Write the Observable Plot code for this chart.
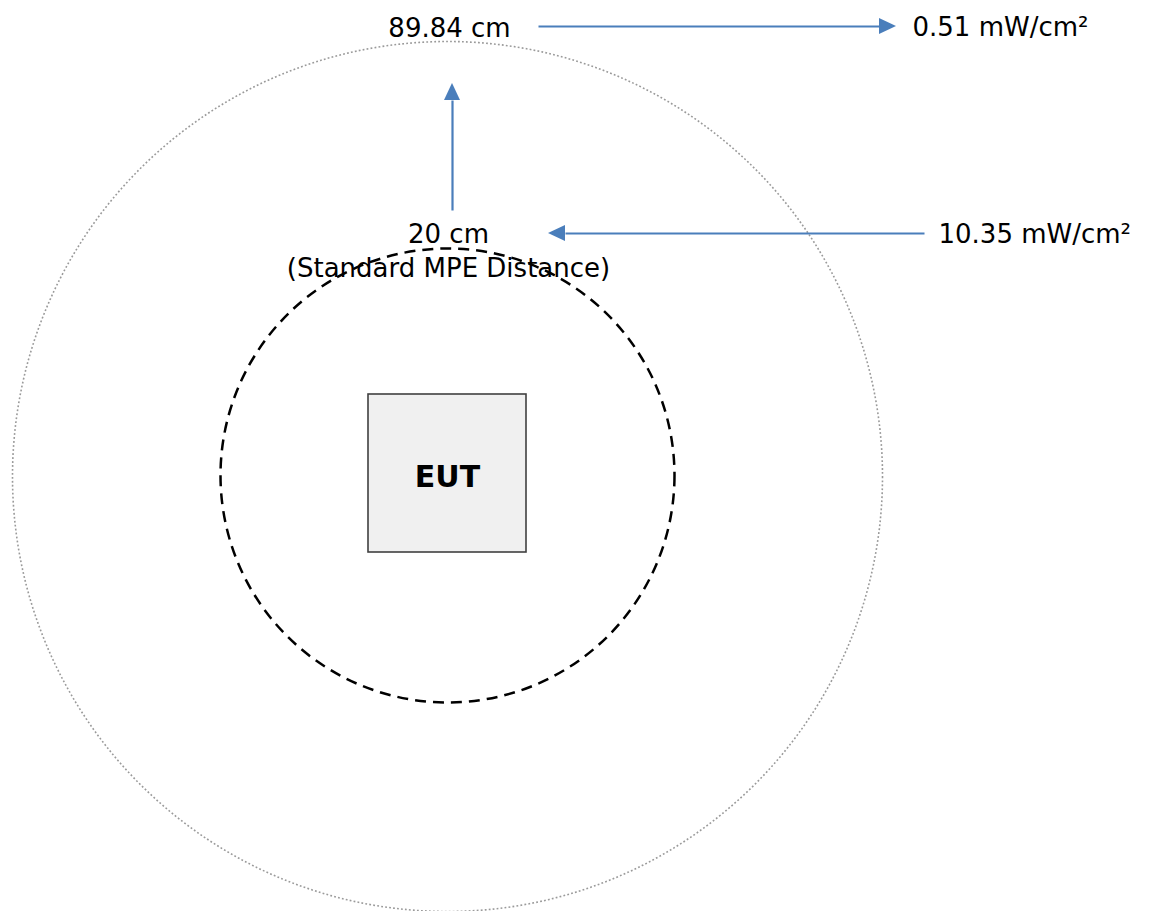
<!DOCTYPE html>
<html>
<head>
<meta charset="utf-8">
<script src="https://cdn.jsdelivr.net/npm/d3@7"></script>
<script src="https://cdn.jsdelivr.net/npm/@observablehq/plot@0.6"></script>
<style>
  html, body { margin: 0; padding: 0; background: #fff; }
  #chart svg { display: block; }
</style>
</head>
<body>
<div id="chart"></div>
<script>
// ---- Diagram data (diagram units = page pixels) ----
const circleNames = ["Calculated MPE distance", "Standard MPE distance"];
const circleCx = [447, 447];
const circleCy = [476, 475];
const circleR = [435, 227];

const boxName = ["EUT"];
const boxX1 = [368], boxX2 = [526], boxY1 = [394], boxY2 = [552];

const arrowNames = ["distance grows", "to power density (89.84 cm)", "from power density (20 cm)"];
const arrowX1 = [452, 538, 924];
const arrowY1 = [210, 26, 233];
const arrowX2 = [452, 896, 548];
const arrowY2 = [83, 26, 233];

const labelTexts = ["89.84 cm", "0.51 mW/cm²", "20 cm", "(Standard MPE Distance)", "10.35 mW/cm²"];
const labelX = [449, 912, 448, 448, 938];
const labelY = [36, 35, 242, 276, 242];
const labelAnchor = ["middle", "start", "middle", "middle", "start"];

const titleText = ["EUT"];
const titleX = [447];
const titleY = [486];

// ---- Build tables ----
const circles = circleNames.map((n, i) => ({name: n, cx: circleCx[i], cy: circleCy[i], r: circleR[i]}));
const boxes = boxName.map((n, i) => ({name: n, x1: boxX1[i], x2: boxX2[i], y1: boxY1[i], y2: boxY2[i]}));
const HEAD_LEN = 17, HEAD_W = 16;
const arrows = arrowNames.map((n, i) => {
  const x1 = arrowX1[i], y1 = arrowY1[i], x2 = arrowX2[i], y2 = arrowY2[i];
  const len = Math.hypot(x2 - x1, y2 - y1);
  const ux = (x2 - x1) / len, uy = (y2 - y1) / len;
  return {name: n, x1, y1, x2, y2, bx: x2 - ux * HEAD_LEN, by: y2 - uy * HEAD_LEN, ux, uy};
});
const headsH = [], headsV = [];
arrows.forEach((a, i) => {
  if (Math.abs(a.ux) > 0.5) {
    headsH.push({k: i, x: a.bx, y1: a.by - HEAD_W / 2, y2: a.by + HEAD_W / 2});
    headsH.push({k: i, x: a.x2, y1: a.y2, y2: a.y2});
  } else {
    headsV.push({k: i, y: a.by, x1: a.bx - HEAD_W / 2, x2: a.bx + HEAD_W / 2});
    headsV.push({k: i, y: a.y2, x1: a.x2, x2: a.x2});
  }
});
const labels = labelTexts.map((t, i) => ({t, x: labelX[i], y: labelY[i], a: labelAnchor[i]}));
const titles = titleText.map((t, i) => ({t, x: titleX[i], y: titleY[i]}));

const BLUE = "#4a7ebb";
const FONT = "DejaVu Sans, Verdana, sans-serif";

const chart = Plot.plot({
  width: 1155,
  height: 911,
  margin: 0,
  style: {background: "#fff", overflow: "visible"},
  x: {domain: [0, 1155], range: [0, 1155], axis: null},
  y: {domain: [0, 911], range: [0, 911], axis: null},
  r: {type: "linear", domain: [0, 500], range: [0, 500]},
  marks: [
    Plot.dot(circles.slice(0, 1), {x: "cx", y: "cy", r: "r", fill: "none", stroke: "#9a9a9a", strokeWidth: 1.6, strokeDasharray: "1.8,2.2"}),
    Plot.dot(circles.slice(1), {x: "cx", y: "cy", r: "r", fill: "none", stroke: "#000", strokeWidth: 2.5, strokeDasharray: "11,7"}),
    Plot.rect(boxes, {x1: "x1", x2: "x2", y1: "y1", y2: "y2", fill: "#f0f0f0", stroke: "#404040", strokeWidth: 1.6}),
    Plot.link(arrows, {x1: "x1", y1: "y1", x2: "bx", y2: "by", stroke: BLUE, strokeWidth: 2.2}),
    Plot.areaY(headsH, {x: "x", y1: "y1", y2: "y2", z: "k", fill: BLUE}),
    Plot.areaX(headsV, {y: "y", x1: "x1", x2: "x2", z: "k", fill: BLUE}),
    Plot.text(labels.filter(d => d.a === "middle"), {x: "x", y: "y", text: "t", textAnchor: "middle", lineAnchor: "bottom", fontSize: 26, fontFamily: FONT, fill: "#000"}),
    Plot.text(labels.filter(d => d.a === "start"), {x: "x", y: "y", text: "t", textAnchor: "start", lineAnchor: "bottom", fontSize: 26, fontFamily: FONT, fill: "#000"}),
    Plot.text(titles, {x: "x", y: "y", text: "t", textAnchor: "middle", lineAnchor: "bottom", fontSize: 30, fontWeight: "bold", fontFamily: FONT, fill: "#000"})
  ]
});
document.getElementById("chart").appendChild(chart);
</script>
</body>
</html>
